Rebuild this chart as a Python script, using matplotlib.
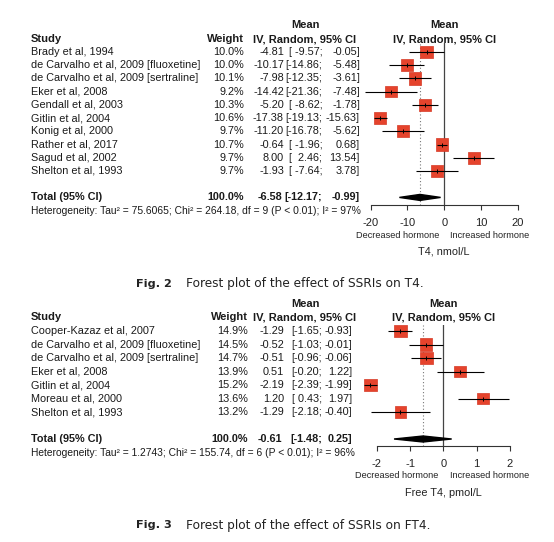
import matplotlib
matplotlib.use("Agg")
import matplotlib.pyplot as plt
import matplotlib.transforms as mtrans

W, H = 554, 542
FONT = "Liberation Sans"
RED = "#e5432c"

# ---- Fig. 2: T4, nmol/L ----
t4_studies = ["Brady et al, 1994",
              "de Carvalho et al, 2009 [fluoxetine]",
              "de Carvalho et al, 2009 [sertraline]",
              "Eker et al, 2008",
              "Gendall et al, 2003",
              "Gitlin et al, 2004",
              "Konig et al, 2000",
              "Rather et al, 2017",
              "Sagud et al, 2002",
              "Shelton et al, 1993"]
t4_weight = [10.0, 10.0, 10.1, 9.2, 10.3, 10.6, 9.7, 10.7, 9.7, 9.7]
t4_mean = [-4.81, -10.17, -7.98, -14.42, -5.20, -17.38, -11.20, -0.64, 8.00, -1.93]
t4_lo = [-9.57, -14.86, -12.35, -21.36, -8.62, -19.13, -16.78, -1.96, 2.46, -7.64]
t4_hi = [-0.05, -5.48, -3.61, -7.48, -1.78, -15.63, -5.62, 0.68, 13.54, 3.78]
t4_total = [-6.58, -12.17, -0.99]
t4_het = "Heterogeneity: Tau² = 75.6065; Chi² = 264.18, df = 9 (P < 0.01); I² = 97%"
t4_ticks = [-20, -10, 0, 10, 20]
t4_xlabel = "T4, nmol/L"
t4_caption = "Forest plot of the effect of SSRIs on T4."

# ---- Fig. 3: Free T4, pmol/L ----
ft4_studies = ["Cooper-Kazaz et al, 2007",
               "de Carvalho et al, 2009 [fluoxetine]",
               "de Carvalho et al, 2009 [sertraline]",
               "Eker et al, 2008",
               "Gitlin et al, 2004",
               "Moreau et al, 2000",
               "Shelton et al, 1993"]
ft4_weight = [14.9, 14.5, 14.7, 13.9, 15.2, 13.6, 13.2]
ft4_mean = [-1.29, -0.52, -0.51, 0.51, -2.19, 1.20, -1.29]
ft4_lo = [-1.65, -1.03, -0.96, -0.20, -2.39, 0.43, -2.18]
ft4_hi = [-0.93, -0.01, -0.06, 1.22, -1.99, 1.97, -0.40]
ft4_total = [-0.61, -1.48, 0.25]
ft4_het = "Heterogeneity: Tau² = 1.2743; Chi² = 155.74, df = 6 (P < 0.01); I² = 96%"
ft4_ticks = [-2, -1, 0, 1, 2]
ft4_xlabel = "Free T4, pmol/L"
ft4_caption = "Forest plot of the effect of SSRIs on FT4."


def fx(px):
    return px / W


def fy(py):
    return 1 - py / H


def panel(fig, studies, weight, mean, lo, hi, total, het, ticks, xlabel,
          box, row0, step, cols, head_y, cap_y, fignum, caption):
    l, t, r, b = box
    ax = fig.add_axes([fx(l), fy(b), fx(r) - fx(l), (b - t) / H])
    ax.set_xlim(ticks[0], ticks[-1])
    ax.set_ylim((b - row0) / step, (t - row0) / step)
    ax.patch.set_alpha(0)
    for s in ["top", "left", "right"]:
        ax.spines[s].set_visible(False)
    ax.spines["bottom"].set_linewidth(0.8)
    ax.spines["bottom"].set_color("#333333")
    ax.set_yticks([])
    ax.set_xticks(ticks)
    ax.set_xticklabels([str(v) for v in ticks], fontfamily=FONT, fontsize=8,
                       color="#222222")
    ax.tick_params(axis="x", length=3.6, width=0.8, color="#333333", pad=6)

    n = len(studies)
    rows = list(range(n))
    ty = n + 1

    ax.axvline(0, color="#444444", lw=0.9, zorder=1)
    ax.axvline(total[0], color="#777777", lw=0.8, ls=(0, (1, 2)), zorder=1)

    wmax = max(weight)
    sizes = [(12.5 * 0.72 * (w / wmax) ** 0.5) ** 2 for w in weight]
    ax.scatter(mean, rows, s=sizes, marker="s", color=RED, edgecolor="#d63a25",
               linewidth=0.5, zorder=2, clip_on=False)
    ax.hlines(rows, lo, hi, color="black", lw=0.8, zorder=3, clip_on=False)
    ax.scatter(mean, rows, s=9, marker="|", color="black", lw=0.7, zorder=4,
               clip_on=False)
    dh = 3.0 / step
    ax.fill([total[1], total[0], total[2], total[0]],
            [ty, ty - dh, ty, ty + dh], color="black", zorder=3, clip_on=False)

    # under-axis labels
    kw = dict(xycoords=("data", "axes fraction"), textcoords="offset points",
              va="center", fontfamily=FONT, color="#222222")
    ax.annotate("Decreased hormone", xy=(0, 0), xytext=(-3.5, -30 * 0.72),
                ha="right", fontsize=6.6, **kw)
    ax.annotate("Increased hormone", xy=(0, 0), xytext=(4.5, -30 * 0.72),
                ha="left", fontsize=6.6, **kw)
    ax.annotate(xlabel, xy=(0, 0), xytext=(0, -47 * 0.72), ha="center",
                fontsize=7.8, **kw)

    # headers
    hx = mtrans.blended_transform_factory(ax.transData, fig.transFigure)
    bold = dict(fontfamily=FONT, fontsize=8, fontweight="bold", va="center",
                color="#1a1a1a")
    ax.text(0, fy(head_y[0]), "Mean", transform=hx, ha="center", **bold)
    ax.text(0, fy(head_y[1]), "IV, Random, 95% CI", transform=hx,
            ha="center", **bold)
    fig.text(fx(cols["study"]), fy(head_y[1]), "Study", ha="left", **bold)
    fig.text(fx(cols["weight"]), fy(head_y[1]), "Weight", ha="right", **bold)
    fig.text(fx(cols["head"]), fy(head_y[0]), "Mean", ha="center", **bold)
    fig.text(fx(cols["head"]), fy(head_y[1]), "IV, Random, 95% CI",
             ha="center", **bold)

    # table rows
    rt = mtrans.blended_transform_factory(fig.transFigure, ax.transData)
    reg = dict(fontfamily=FONT, fontsize=7.8, va="center", color="#1a1a1a",
               transform=rt)
    lw_ = max(len(f"{v:.2f}") for v in lo)
    for i in rows:
        fig.text(fx(cols["study"]), i, studies[i], ha="left", **reg)
        fig.text(fx(cols["weight"]), i, f"{weight[i]:.1f}%", ha="right", **reg)
        fig.text(fx(cols["mean"]), i, f"{mean[i]:.2f}", ha="right", **reg)
        fig.text(fx(cols["lo"]), i, f"[{lo[i]:>{lw_}.2f};", ha="right", **reg)
        fig.text(fx(cols["hi"]), i, f"{hi[i]:.2f}]", ha="right", **reg)
    regb = dict(reg, fontweight="bold")
    fig.text(fx(cols["study"]), ty, "Total (95% CI)", ha="left", **regb)
    fig.text(fx(cols["weight"]), ty, "100.0%", ha="right", **regb)
    fig.text(fx(cols["mean"] - 1.5), ty, f"{total[0]:.2f}", ha="right", **regb)
    fig.text(fx(cols["lo"]), ty, f"[{total[1]:.2f};", ha="right", **regb)
    fig.text(fx(cols["hi"]), ty, f"{total[2]:.2f}]", ha="right", **regb)
    fig.text(fx(cols["study"]), ty + 1, het, ha="left",
             **dict(reg, fontsize=7.4))

    # caption
    fig.text(fx(136), fy(cap_y), f"Fig. {fignum}", ha="left", va="center",
             fontfamily="DejaVu Sans", fontsize=8.1, fontweight="bold",
             color="#222222")
    fig.text(fx(186), fy(cap_y), caption, ha="left", va="center",
             fontfamily="DejaVu Sans", fontsize=8.7, color="#222222")


def main():
    fig = plt.figure(figsize=(W / 100, H / 100), dpi=100)
    fig.patch.set_facecolor("white")
    panel(fig, t4_studies, t4_weight, t4_mean, t4_lo, t4_hi, t4_total, t4_het,
          t4_ticks, t4_xlabel, box=(370.5, 43, 518, 205), row0=52, step=13.22,
          cols=dict(study=31, weight=244, mean=284, lo=322.5, hi=360, head=305),
          head_y=(25, 39), cap_y=284, fignum=2, caption=t4_caption)
    panel(fig, ft4_studies, ft4_weight, ft4_mean, ft4_lo, ft4_hi, ft4_total,
          ft4_het, ft4_ticks, ft4_xlabel, box=(376.7, 325, 510, 445.7),
          row0=331, step=13.5,
          cols=dict(study=31, weight=248, mean=284, lo=322, hi=352, head=305),
          head_y=(304, 317), cap_y=525, fignum=3, caption=ft4_caption)
    fig.savefig("out.png", dpi=100, facecolor="white")


if __name__ == "__main__":
    main()
